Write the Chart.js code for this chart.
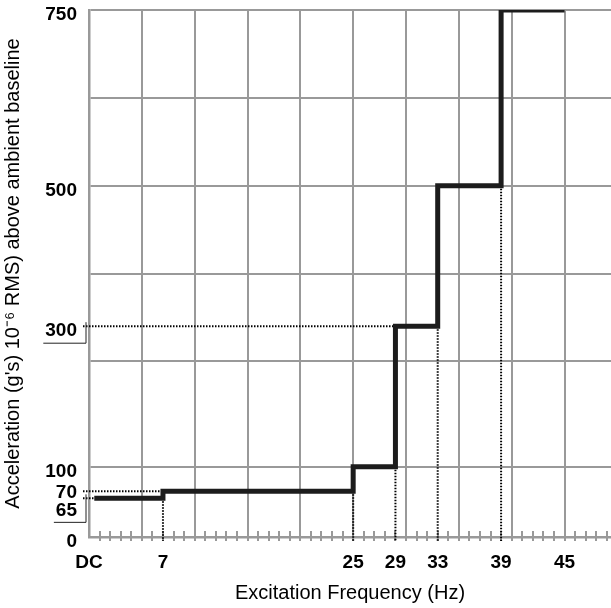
<!DOCTYPE html>
<html lang="en">
<head>
    <meta charset="UTF-8">
    <title>Acceleration vs Excitation Frequency</title>
    <script src="https://cdnjs.cloudflare.com/ajax/libs/Chart.js/4.4.1/chart.umd.min.js"></script>
    <style>
        html, body { margin: 0; padding: 0; background: #fff; }
        .chart-wrapper { width: 611px; height: 608px; }
    </style>
</head>
<body>
    <div class="chart-wrapper"><canvas id="stepChart"></canvas></div>

    <script>
        // Step breakpoints (Hz) and the level (as plotted on the y scale) reached there
        const frequencies = [0.5, 7, 25, 29, 33, 39, 45];
        const levels = [55, 65, 100, 300, 500, 750, 750];

        // Axis ticks and labels
        const xTickValues = [0, 7, 25, 29, 33, 39, 45];
        const xTickLabels = ['DC', '7', '25', '29', '33', '39', '45'];
        const yTickValues = [0, 55, 65, 100, 300, 500, 750];
        const yTickLabels = ['0', '65', '70', '100', '300', '500', '750'];
        const yGridValues = [0, 100, 250, 375, 500, 625, 750];

        const FONT = '"Liberation Sans", Arial, sans-serif';
        const GRID = '#999999';

        // Dotted guide lines, minor ticks, y labels and the small brackets
        const guides = {
            id: 'guides',
            beforeDatasetsDraw(chart) {
                const { ctx, chartArea, scales: { x, y } } = chart;
                const base = chartArea.bottom;
                ctx.save();
                // minor ticks every 1 Hz
                ctx.strokeStyle = GRID;
                ctx.lineWidth = 2;
                for (let f = 1; f < x.max; f++) {
                    const px = Math.round(x.getPixelForValue(f));
                    ctx.beginPath();
                    ctx.moveTo(px, base - 6);
                    ctx.lineTo(px, base + 4);
                    ctx.stroke();
                }
                // dotted lines
                ctx.strokeStyle = '#000';
                ctx.lineWidth = 2;
                ctx.setLineDash([1.5, 1.5]);
                for (let i = 1; i < frequencies.length - 1; i++) {
                    const px = x.getPixelForValue(frequencies[i]);
                    ctx.beginPath();
                    ctx.moveTo(px, y.getPixelForValue(levels[i - 1]));
                    ctx.lineTo(px, base + 4);
                    ctx.stroke();
                }
                levels.forEach((lv, i) => {
                    if (yGridValues.includes(lv)) return;
                    const py = y.getPixelForValue(lv);
                    ctx.beginPath();
                    ctx.moveTo(chartArea.left - 6, py);
                    ctx.lineTo(x.getPixelForValue(frequencies[i]), py);
                    ctx.stroke();
                });
                ctx.restore();
            },
            afterDraw(chart) {
                const { ctx, chartArea, scales: { y } } = chart;
                const nudge = { '65': 7, '70': -4 };
                const bracketed = ['65', '300'];
                ctx.save();
                ctx.font = 'bold 19px ' + FONT;
                ctx.fillStyle = '#000';
                ctx.textAlign = 'right';
                ctx.textBaseline = 'middle';
                const right = chartArea.left - 12;
                yTickValues.forEach((v, i) => {
                    const txt = yTickLabels[i];
                    const py = y.getPixelForValue(v) + 5 + (nudge[txt] || 0);
                    ctx.fillText(txt, right, py);
                    if (bracketed.includes(txt)) {
                        const w = ctx.measureText(txt).width;
                        const ly = py + 12;
                        const bx = chartArea.left - 3;
                        ctx.strokeStyle = '#222';
                        ctx.lineWidth = 1;
                        ctx.beginPath();
                        ctx.moveTo(right - w - 2, ly);
                        ctx.lineTo(bx, ly);
                        ctx.lineTo(bx, y.getPixelForValue(v) - 4);
                        ctx.stroke();
                    }
                });
                ctx.restore();
            }
        };

        const ctx = document.getElementById('stepChart').getContext('2d');
        new Chart(ctx, {
            type: 'line',
            data: {
                datasets: [{
                    data: frequencies.map((f, i) => ({ x: f, y: levels[i] })),
                    borderColor: '#1c1c1c',
                    borderWidth: 5,
                    pointRadius: 0,
                    stepped: 'before',
                    fill: false
                }]
            },
            options: {
                responsive: true,
                maintainAspectRatio: false,
                animation: false,
                layout: { padding: { top: 10, right: 0, left: 0, bottom: 0 } },
                plugins: {
                    legend: { display: false },
                    tooltip: { enabled: false }
                },
                scales: {
                    x: {
                        type: 'linear',
                        min: 0,
                        max: 49.4,
                        afterFit: (scale) => {
                            scale.height = 71;
                            scale.paddingLeft = 0;
                            scale.paddingRight = 0;
                        },
                        afterBuildTicks: (scale) => {
                            const t = [];
                            for (let f = 0; f <= 49; f++) t.push({ value: f });
                            scale.ticks = t;
                        },
                        grid: {
                            color: (c) => (c.tick && c.tick.value % 5 === 0) ? GRID : 'rgba(0,0,0,0)',
                            lineWidth: 2,
                            drawTicks: false
                        },
                        border: { color: GRID, width: 2.5 },
                        ticks: {
                            autoSkip: false,
                            maxRotation: 0,
                            padding: 14,
                            color: '#000',
                            font: { family: FONT, size: 19, weight: 'bold' },
                            callback: (value) => {
                                const k = xTickValues.indexOf(value);
                                return k >= 0 ? xTickLabels[k] : '';
                            }
                        },
                        title: {
                            display: true,
                            text: 'Excitation Frequency (Hz)',
                            color: '#000',
                            font: { family: FONT, size: 20 },
                            padding: { top: 0, bottom: 3 }
                        }
                    },
                    y: {
                        min: 0,
                        max: 750,
                        afterFit: (scale) => { scale.width = 89; },
                        afterBuildTicks: (scale) => {
                            scale.ticks = yGridValues.map(v => ({ value: v }));
                        },
                        grid: { color: GRID, lineWidth: 2, drawTicks: false },
                        border: { color: GRID, width: 2.5 },
                        ticks: { display: false },
                        title: {
                            display: true,
                            text: 'Acceleration (g\'s) 10\u207B\u2076 RMS) above ambient baseline',
                            color: '#000',
                            font: { family: FONT, size: 20 },
                            padding: { top: 1, bottom: 0 }
                        }
                    }
                }
            },
            plugins: [guides]
        });
    </script>
</body>
</html>
